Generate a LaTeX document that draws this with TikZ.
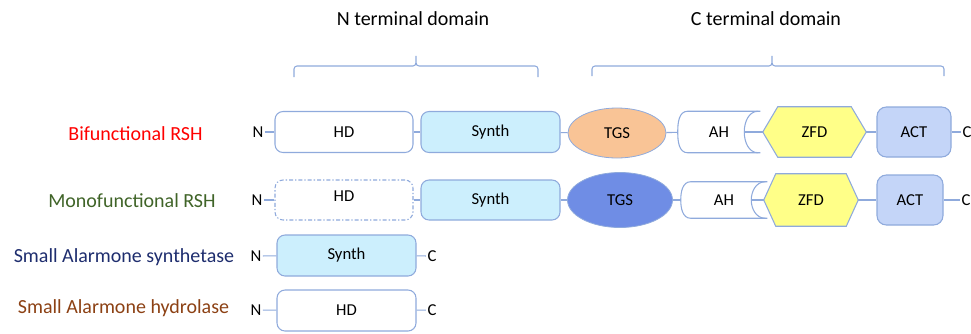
\documentclass[tikz,border=0pt]{standalone}
\usepackage{fontspec}
\setmainfont{Carlito}
\usetikzlibrary{calc,shapes.geometric}
\pgfdeclarelayer{background}
\pgfsetlayers{background,main}

\definecolor{lineblue}{RGB}{143,170,220}
\definecolor{synthfill}{RGB}{204,239,253}
\definecolor{tgsorange}{RGB}{249,196,150}
\definecolor{tgsblue}{RGB}{111,141,229}
\definecolor{zfdyellow}{RGB}{255,255,136}
\definecolor{actfill}{RGB}{196,213,248}
\definecolor{bifred}{RGB}{255,0,0}
\definecolor{monogreen}{RGB}{64,100,40}
\definecolor{synnavy}{RGB}{30,45,110}
\definecolor{hydbrown}{RGB}{140,65,20}

\begin{document}
\begin{tikzpicture}[x=0.75pt,y=-0.75pt,
  link/.style={draw=lineblue,line width=0.8pt},
  boxtext/.style={font=\fontsize{12.5}{14}\selectfont,text=black,inner sep=0pt},
  dom/.style={boxtext,draw=lineblue,line width=0.8pt,rounded corners=6pt},
  end/.style={boxtext,inner sep=1pt},
  rowlabel/.style={font=\fontsize{15}{17}\selectfont,inner sep=0pt},
  title/.style={font=\fontsize{15}{17}\selectfont,inner sep=0pt},
  brace/.style={draw=lineblue,line width=0.8pt},
  tgs/.style={boxtext,ellipse,draw=lineblue,line width=0.6pt},
  hexdraw/.style={draw=lineblue,line width=0.8pt,fill=zfdyellow},
  ahtext/.style={boxtext}
]
\useasboundingbox (0,0) rectangle (971,333);

% domain titles and braces
\node[title] (ntitle) at (413,19) {N terminal domain};
\node[title] (ctitle) at (766,19) {C terminal domain};
\draw[brace] (294,77) -- (294,69) to[out=90,in=180] (297,66) -- (413,66)
  to[out=0,in=-90] (416,56) to[out=-90,in=180] (419,66) -- (535,66)
  to[out=0,in=90] (538,69) -- (538,77);
\draw[brace] (592,76) -- (592,69) to[out=90,in=180] (595,66) -- (769,66)
  to[out=0,in=-90] (772,56) to[out=-90,in=180] (775,66) -- (941,66)
  to[out=0,in=90] (944,69) -- (944,76);

% row labels
\node[rowlabel,text=bifred] (lab1) at (135.5,134) {Bifunctional RSH};
\node[rowlabel,text=monogreen] (lab2) at (132,201) {Monofunctional RSH};
\node[rowlabel,text=synnavy] (lab3) at (124,257) {Small Alarmone synthetase};
\node[rowlabel,text=hydbrown] (lab4) at (123.5,308) {Small Alarmone hydrolase};

% ---------- bifunctional RSH ----------
\node[end] (n1) at (258,132) {N};
\node[dom,fill=white,minimum width=103.5pt,minimum height=30.75pt] (hd1) at (344,132) {HD};
\node[dom,fill=synthfill,minimum width=104.25pt,minimum height=30.75pt] (syn1) at (490.5,132) {Synth};
\node[tgs,fill=tgsorange,minimum width=73.5pt,minimum height=37.5pt] (tgs1) at (617,133) {TGS};
\node[ahtext,minimum width=61.5pt,minimum height=30.75pt] (ah1) at (719,132) {AH};
\coordinate (ah1r) at ($(ah1.east)+(-16,0)$);
\node[boxtext,minimum width=77.25pt,minimum height=37.5pt] (zfd1) at (814.5,132) {ZFD};
\node[dom,fill=actfill,rounded corners=7pt,minimum width=55.5pt,minimum height=37.5pt] (act1) at (914,132) {ACT};
\node[end] (c1) at (967,132) {C};

% ---------- monofunctional RSH ----------
\node[end] (n2) at (257,200) {N};
\node[dom,fill=white,dash pattern=on 3pt off 1.5pt on 1pt off 1.5pt,minimum width=103.5pt,minimum height=30pt] (hd2) at (344,200) {};
\node[boxtext] (hd2t) at (344,196) {HD};
\node[dom,fill=synthfill,minimum width=104.25pt,minimum height=30pt] (syn2) at (490.5,200) {Synth};
\node[tgs,fill=tgsblue,minimum width=78.75pt,minimum height=41.25pt] (tgs2) at (620,200) {TGS};
\node[ahtext,minimum width=64.5pt,minimum height=27pt] (ah2) at (724,200) {AH};
\coordinate (ah2r) at ($(ah2.east)+(-16,0)$);
\node[boxtext,minimum width=70.5pt,minimum height=39pt] (zfd2) at (811,200) {ZFD};
\node[dom,fill=actfill,rounded corners=7pt,minimum width=49.5pt,minimum height=37.5pt] (act2) at (910,200) {ACT};
\node[end] (c2) at (966,200) {C};

% ---------- small alarmone synthetase ----------
\node[end] (n3) at (256,256) {N};
\node[dom,fill=synthfill,minimum width=104.25pt,minimum height=30.75pt] (syn3) at (346.5,255.5) {Synth};
\node[end] (c3) at (432,256) {C};

% ---------- small alarmone hydrolase ----------
\node[end] (n4) at (256,310) {N};
\node[dom,fill=white,minimum width=104.25pt,minimum height=30.75pt] (hd4) at (346.5,310.5) {HD};
\node[end] (c4) at (432,310) {C};

% hexagonal ZFD outlines and AH outlines
\begin{pgfonlayer}{background}
  \foreach \z/\d in {zfd1/15,zfd2/12}{
    \draw[hexdraw] (\z.west) -- ($(\z.north west)+(\d,0)$) -- ($(\z.north east)+(-\d,0)$)
      -- (\z.east) -- ($(\z.south east)+(-\d,0)$) -- ($(\z.south west)+(\d,0)$) -- cycle;
  }
\end{pgfonlayer}
\foreach \a in {ah1,ah2}{
  \draw[link] (\a.north east) -- ($(\a.north west)+(10,0)$) to[out=180,in=90] (\a.west)
    to[out=-90,in=180] ($(\a.south west)+(10,0)$) -- (\a.south east);
  \draw[link] ($(\a.north east)+(-2,0)$) to[out=180,in=90] ($(\a.east)+(-16,0)$)
    to[out=-90,in=180] ($(\a.south east)+(-2,0)$);
}

% connectors
\draw[link] (n1) -- (hd1);
\draw[link] (hd1) -- (syn1);
\draw[link] (syn1) -- (tgs1);
\draw[link] (tgs1) -- (ah1);
\draw[link] (ah1r) -- (zfd1);
\draw[link] (zfd1) -- (act1);
\draw[link] (act1) -- (c1);

\draw[link] (n2) -- (hd2);
\draw[link] (hd2) -- (syn2);
\draw[link] (syn2) -- (tgs2);
\draw[link] (tgs2) -- (ah2);
\draw[link] (ah2r) -- (zfd2);
\draw[link] (zfd2) -- (act2);
\draw[link] (act2) -- (c2);

\draw[link] (n3) -- (syn3);
\draw[link] (syn3) -- (c3);
\draw[link] (n4) -- (hd4);
\draw[link] (hd4) -- (c4);
\end{tikzpicture}
\end{document}
